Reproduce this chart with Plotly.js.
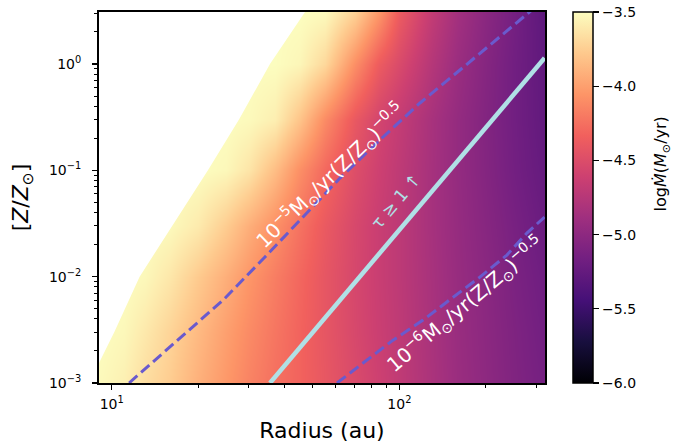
<!DOCTYPE html>
<html><head><meta charset="utf-8">
<script src="https://cdn.plot.ly/plotly-3.0.1.min.js"></script>
<style>body{margin:0;padding:0;background:#fff}#chart{width:699px;height:445px}</style>
</head><body><div id="chart"></div>
<script>
// Radius grid (au) and metallicity grid [Z/Zsun]
const radius = [9, 11, 13, 16, 20, 25, 30, 37, 45, 55, 70, 85, 100, 130, 160, 200, 250, 320];
const metallicity = [0.001, 0.003, 0.01, 0.03, 0.1, 0.3, 1, 3];
// log Mdot (Msun/yr) per metallicity row
const logMdot_Z0p001 = [-3.52,-3.57,-3.67,-3.76,-3.91,-4.04,-4.15,-4.25,-4.32,-4.41,-4.52,-4.61,-4.69,-4.82,-4.92,-5.00,-5.08,-5.15];
const logMdot_Z0p003 = [-3.50,-3.53,-3.61,-3.72,-3.86,-4.00,-4.11,-4.22,-4.32,-4.42,-4.54,-4.63,-4.70,-4.83,-4.93,-5.01,-5.09,-5.17];
const logMdot_Z0p01  = [-3.50,-3.50,-3.53,-3.62,-3.77,-3.92,-4.05,-4.18,-4.30,-4.42,-4.55,-4.64,-4.71,-4.84,-4.94,-5.02,-5.11,-5.19];
const logMdot_Z0p03  = [-3.50,-3.50,-3.50,-3.52,-3.60,-3.76,-3.92,-4.08,-4.24,-4.39,-4.54,-4.64,-4.71,-4.85,-4.95,-5.04,-5.13,-5.22];
const logMdot_Z0p1   = [-3.50,-3.50,-3.50,-3.50,-3.50,-3.53,-3.63,-3.84,-4.09,-4.29,-4.49,-4.61,-4.70,-4.85,-4.96,-5.06,-5.16,-5.25];
const logMdot_Z0p3   = [-3.50,-3.50,-3.50,-3.50,-3.50,-3.50,-3.52,-3.58,-3.81,-4.11,-4.40,-4.57,-4.67,-4.84,-4.96,-5.07,-5.17,-5.27];
const logMdot_Z1     = [-3.50,-3.50,-3.50,-3.50,-3.50,-3.50,-3.50,-3.50,-3.54,-3.70,-4.09,-4.37,-4.52,-4.76,-4.92,-5.05,-5.17,-5.28];
const logMdot_Z3     = [-3.50,-3.50,-3.50,-3.50,-3.50,-3.50,-3.50,-3.50,-3.50,-3.52,-3.74,-4.05,-4.37,-4.68,-4.87,-5.02,-5.15,-5.30];

// Masked (white) region boundary
const maskR = [7, 7, 52, 47, 35.5, 27.7, 21.6, 16.2, 12.5, 10.2, 9.03, 8.4];
const maskZ = [0.0008, 5, 5, 3.08, 1, 0.3, 0.1, 0.03, 0.01, 0.003, 0.00154, 0.0008];

// 1e-5 Msun/yr (Z/Zsun)^-0.5 curve
const upperR = [11.49, 24.4, 34.1, 51.7, 62.2, 87.8, 118, 162.5, 280, 300];
const upperZ = [0.001, 0.00603, 0.0153, 0.0492, 0.0846, 0.2057, 0.43, 0.878, 3.02, 3.5];
// 1e-6 Msun/yr (Z/Zsun)^-0.5 curve
const lowerR = [60.7, 73.0, 95.1, 120.9, 150.1, 190.6, 236.6, 277.7, 320];
const lowerZ = [0.001, 0.00147, 0.00253, 0.00391, 0.00603, 0.00991, 0.01597, 0.0257, 0.0364];
// tau >= 1 line
const tauR = [35.5, 320];
const tauZ = [0.001, 1.14];

const xTickVals = [10, 100];
const xTickText = ['10<sup>1</sup>', '10<sup>2</sup>'];
const xMinor = [9, 20, 30, 40, 50, 60, 70, 80, 90, 200, 300];
const yTickVals = [0.001, 0.01, 0.1, 1];
const yTickText = ['10<sup>−3</sup>', '10<sup>−2</sup>', '10<sup>−1</sup>', '10<sup>0</sup>'];
const yMinor = [0.002,0.003,0.004,0.005,0.006,0.007,0.008,0.009,0.02,0.03,0.04,0.05,0.06,0.07,0.08,0.09,0.2,0.3,0.4,0.5,0.6,0.7,0.8,0.9,2,3];
const cbTicks = [-6, -5.5, -5, -4.5, -4, -3.5];

const magma = [
  [0.0, '#000004'], [0.1111, '#180F3E'], [0.2222, '#451077'], [0.3333, '#721F81'],
  [0.4444, '#9F2F7F'], [0.5556, '#CD4071'], [0.6667, '#F1605D'], [0.7778, '#FD9567'],
  [0.8889, '#FEC98D'], [1.0, '#FCFDBF']
];

const zGrid = [logMdot_Z0p001, logMdot_Z0p003, logMdot_Z0p01, logMdot_Z0p03,
               logMdot_Z0p1, logMdot_Z0p3, logMdot_Z1, logMdot_Z3];

const traces = [
  {
    type: 'heatmap', x: radius, y: metallicity, z: zGrid,
    zmin: -6, zmax: -3.5, colorscale: magma, zsmooth: 'best',
    colorbar: {
      x: 1.0628, xanchor: 'left', y: 0.5, yanchor: 'middle',
      len: 1, lenmode: 'fraction', thickness: 20, thicknessmode: 'pixels',
      xpad: 0, ypad: 0, outlinewidth: 1.5, outlinecolor: 'black',
      ticks: 'outside', ticklen: 6, tickwidth: 1.2, tickcolor: 'black',
      tickmode: 'array', tickvals: cbTicks, tickformat: '.1f',
      tickfont: {size: 14, color: 'black'}
    },
    hoverinfo: 'skip'
  },
  {type: 'scatter', mode: 'lines', x: maskR, y: maskZ, fill: 'toself', fillcolor: 'white',
   line: {width: 0, color: 'white'}, hoverinfo: 'skip', showlegend: false},
  {type: 'scatter', mode: 'lines', x: upperR, y: upperZ,
   line: {color: '#6a5acd', width: 3, dash: '11px,5px'}, showlegend: false},
  {type: 'scatter', mode: 'lines', x: lowerR, y: lowerZ,
   line: {color: '#6a5acd', width: 3, dash: '11px,5px'}, showlegend: false},
  {type: 'scatter', mode: 'lines', x: tauR, y: tauZ,
   line: {color: '#b0e0e6', width: 4.5}, showlegend: false}
];

const axisCommon = {
  type: 'log', showgrid: false, zeroline: false, showline: true, mirror: true,
  linecolor: 'black', linewidth: 2, ticks: 'outside', ticklen: 5, tickwidth: 1.2,
  tickcolor: 'black', tickmode: 'array', tickfont: {size: 14, color: 'black'}
};

const layout = {
  width: 699, height: 445,
  margin: {l: 99, r: 154, t: 12, b: 62},
  paper_bgcolor: 'white', plot_bgcolor: 'white',
  font: {family: 'DejaVu Sans', size: 14, color: 'black'},
  showlegend: false,
  xaxis: Object.assign({}, axisCommon, {
    range: [Math.log10(9.03), Math.log10(321)],
    tickvals: xTickVals, ticktext: xTickText, ticklabelstandoff: 2,
    minor: {tickmode: 'array', tickvals: xMinor, ticks: 'outside', ticklen: 3, tickwidth: 1, tickcolor: 'black', showgrid: false},
    title: {text: 'Radius (au)', font: {size: 22, color: 'black'}, standoff: 12}
  }),
  yaxis: Object.assign({}, axisCommon, {
    range: [-3, 0.489],
    tickvals: yTickVals, ticktext: yTickText, ticklabelstandoff: 8,
    minor: {tickmode: 'array', tickvals: yMinor, ticks: 'outside', ticklen: 3, tickwidth: 1, tickcolor: 'black', showgrid: false},
    title: {text: '[<i>Z</i>/<i>Z</i><sub>⊙</sub>]', font: {size: 22, color: 'black'}, standoff: 14}
  }),
  annotations: [
    {x: 1.762, y: -1.05, xref: 'x', yref: 'y', showarrow: false, textangle: -44,
     text: '10<sup>−5</sup>M<sub>⊙</sub>/yr(Z/Z<sub>⊙</sub>)<sup>−0.5</sup>',
     font: {size: 20, color: 'white'}},
    {x: 2.229, y: -2.265, xref: 'x', yref: 'y', showarrow: false, textangle: -40,
     text: '10<sup>−6</sup>M<sub>⊙</sub>/yr(Z/Z<sub>⊙</sub>)<sup>−0.5</sup>',
     font: {size: 20, color: 'white'}},
    {x: 1.9885, y: -1.2888, xref: 'x', yref: 'y', showarrow: false, textangle: -50,
     text: 'τ ≥ 1 ↑', font: {size: 17, color: '#b0e0e6'}},
    {x: 1.289, y: 0.59, xref: 'paper', yref: 'paper', showarrow: false, textangle: -90,
     text: 'log<i>Ṁ</i>(<i>M</i><sub>⊙</sub>/yr)', font: {size: 16, color: 'black'}}
  ]
};

Plotly.newPlot('chart', traces, layout, {staticPlot: true, displayModeBar: false});
</script>
</body></html>
